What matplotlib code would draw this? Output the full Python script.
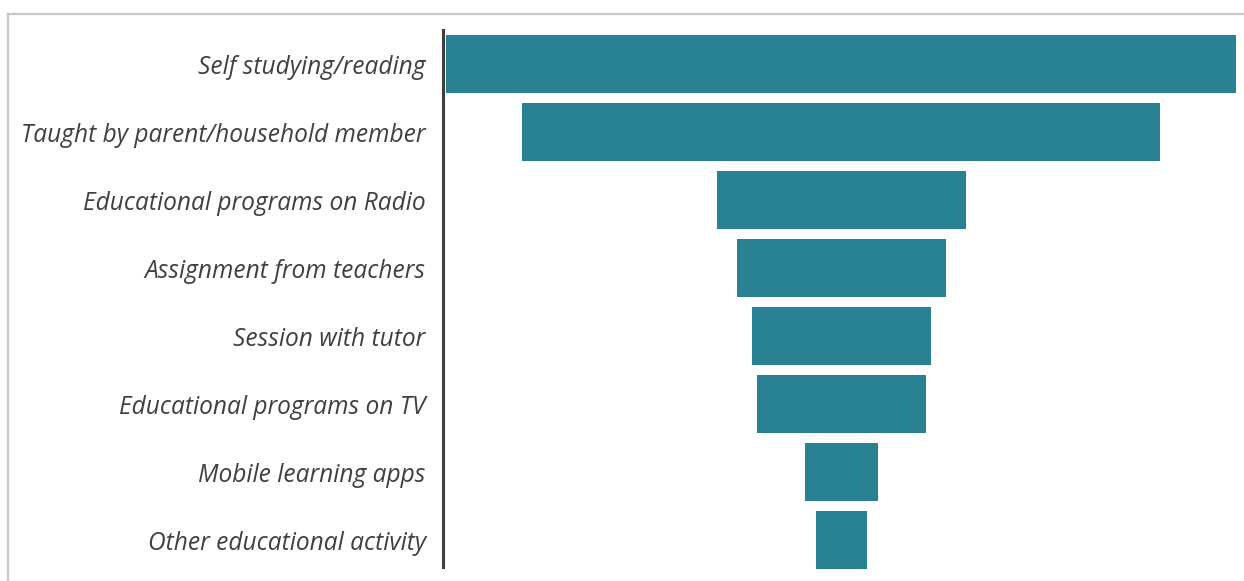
import matplotlib.pyplot as plt
from matplotlib.lines import Line2D

categories = [
    "Self studying/reading",
    "Taught by parent/household member",
    "Educational programs on Radio",
    "Assignment from teachers",
    "Session with tutor",
    "Educational programs on TV",
    "Mobile learning apps",
    "Other educational activity",
]
values = [79.0, 63.8, 24.9, 20.9, 17.9, 16.9, 7.3, 5.1]

bar_color = "#288293"
text_color = "#404040"

fig = plt.figure(figsize=(12.44, 5.81), dpi=100)
W, H = 1244, 581

# axes in pixel terms: x 443..1244, y 30..574
ax = fig.add_axes([443 / W, (H - 574) / H, (W - 443) / W, 544 / H])

# funnel: bars centred on zero
lefts = [-v / 2 for v in values]
ax.barh(range(len(categories)), values, left=lefts, height=0.84, color=bar_color)

ax.set_xlim(-39.8, 40.3)
ax.set_ylim(len(categories) - 0.5, -0.5)
ax.set_yticks(range(len(categories)))
ax.set_yticklabels(categories, fontsize=17.65, style="italic", color=text_color,
                   family=["Open Sans", "DejaVu Sans"])
ax.tick_params(axis="y", length=0, pad=12.5)
ax.set_xticks([])

for s in ["top", "right", "bottom"]:
    ax.spines[s].set_visible(False)
ax.spines["left"].set_color(text_color)
ax.spines["left"].set_linewidth(2.2)
ax.spines["left"].set_bounds(-0.5, 7.4)

# light frame along top and left
fig.add_artist(Line2D([8 / W, 1], [(H - 14) / H, (H - 14) / H], color="#c8c8c8",
                      linewidth=1.6, transform=fig.transFigure))
fig.add_artist(Line2D([8 / W, 8 / W], [0, (H - 14) / H], color="#c8c8c8",
                      linewidth=1.6, transform=fig.transFigure))

fig.savefig("out.png", dpi=100)
